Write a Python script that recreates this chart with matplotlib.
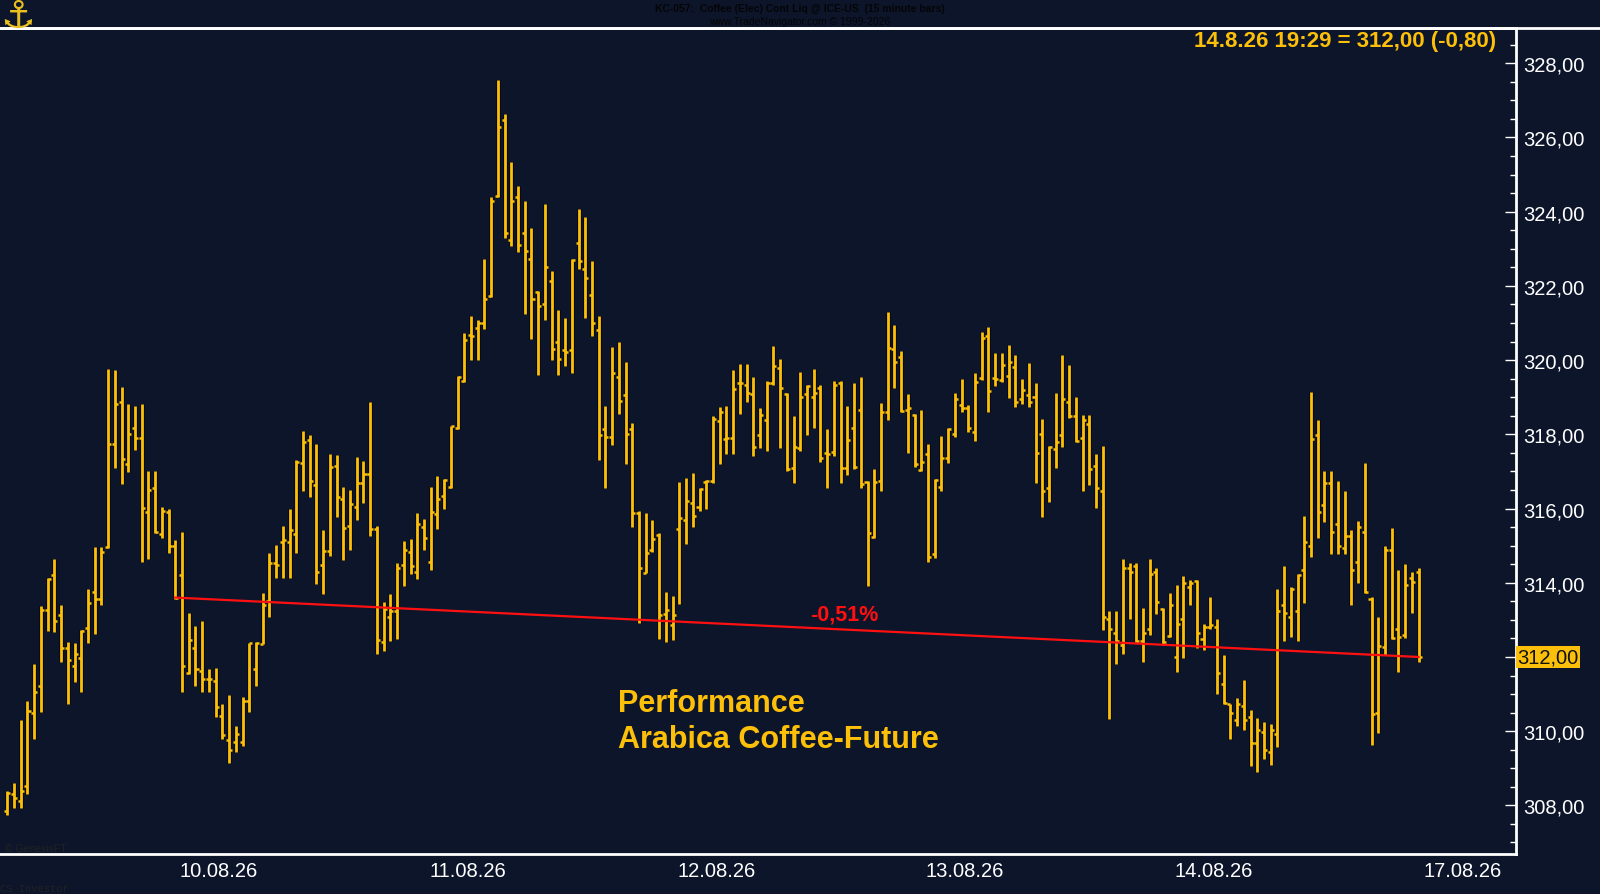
import matplotlib
matplotlib.use("Agg")
import matplotlib.pyplot as plt
import matplotlib.patheffects as pe
import numpy as np

# 15-minute OHLC bars, KC Coffee
opens = [
    307.85, 308.30, 308.13, 308.51, 310.49, 311.22, 313.27, 314.21, 313.14, 312.23,
    311.76, 311.96, 312.78, 313.76, 313.57, 314.96, 317.75, 318.87, 317.19, 318.17,
    317.90, 315.90, 316.55, 315.32, 315.90, 314.99, 314.21, 311.58, 312.25, 311.63,
    311.40, 311.36, 310.42, 309.76, 309.71, 309.71, 310.82, 311.67, 312.36, 313.50,
    314.52, 315.10, 315.10, 315.32, 317.24, 317.86, 316.64, 314.48, 314.86, 317.15,
    316.27, 315.52, 316.03, 316.70, 316.92, 315.45, 312.40, 313.09, 313.24, 314.49,
    314.84, 314.29, 315.50, 314.56, 315.85, 316.33, 316.59, 318.17, 319.44, 320.69,
    320.86, 321.01, 321.74, 324.42, 326.46, 323.25, 324.40, 323.42, 322.73, 321.84,
    321.51, 322.14, 320.48, 320.26, 320.26, 323.15, 322.46, 321.76, 320.81, 318.14,
    317.92, 319.55, 319.07, 318.13, 315.88, 314.27, 314.89, 315.30, 313.17, 312.85,
    315.44, 315.68, 316.16, 316.05, 316.71, 316.75, 318.36, 317.88, 317.90, 319.37,
    319.34, 319.10, 317.97, 318.39, 319.37, 319.78, 319.10, 317.10, 317.63, 319.10,
    319.00, 319.25, 317.49, 317.53, 319.39, 317.09, 318.18, 318.66, 316.71, 315.24,
    316.75, 318.61, 320.29, 320.08, 318.66, 318.52, 317.03, 317.47, 314.78, 316.59,
    317.35, 318.02, 318.79, 318.71, 318.07, 319.51, 320.64, 319.52, 319.46, 319.57,
    319.81, 318.94, 319.05, 319.00, 318.02, 316.54, 317.61, 317.97, 318.88, 318.50,
    317.90, 318.27, 317.14, 316.48, 313.02, 312.64, 312.33, 314.39, 314.44, 312.44,
    312.76, 314.28, 313.29, 312.56, 312.00, 313.02, 313.88, 314.05, 312.49, 312.81,
    312.81, 311.28, 310.74, 310.30, 310.67, 310.39, 309.69, 309.98, 309.43, 309.93,
    313.41, 313.07, 313.25, 314.34, 314.99, 317.98, 316.09, 316.69, 315.58, 314.94,
    315.27, 314.55, 315.38, 313.57, 310.49, 312.26, 314.89, 312.76, 312.58, 314.12,
    314.28,
]
highs = [
    308.38, 308.60, 310.29, 310.82, 311.82, 313.36, 314.12, 314.63, 313.41, 312.41,
    312.38, 312.72, 313.83, 314.95, 314.95, 319.77, 319.73, 319.28, 318.82, 318.77,
    318.82, 317.00, 317.00, 316.05, 315.99, 315.16, 315.37, 313.18, 312.83, 312.98,
    311.67, 311.71, 310.73, 310.98, 310.13, 310.91, 312.38, 312.41, 313.72, 314.79,
    315.03, 315.52, 315.99, 317.32, 318.08, 317.97, 317.74, 315.41, 317.48, 317.43,
    316.59, 316.50, 317.40, 317.28, 318.87, 315.54, 313.49, 313.69, 314.54, 315.13,
    315.18, 315.88, 315.73, 316.59, 316.88, 316.80, 318.22, 319.57, 320.74, 321.18,
    321.08, 322.73, 324.40, 327.56, 326.64, 325.34, 324.70, 324.30, 323.55, 321.86,
    324.22, 322.41, 321.34, 321.14, 322.73, 324.07, 323.85, 322.66, 321.19, 318.75,
    320.34, 320.49, 319.94, 318.30, 315.93, 315.88, 315.68, 315.35, 313.75, 313.65,
    316.71, 316.82, 316.96, 316.55, 316.77, 318.50, 318.73, 318.76, 319.72, 319.89,
    319.89, 319.54, 318.71, 319.43, 320.38, 320.04, 319.12, 318.50, 319.67, 319.32,
    319.77, 319.32, 318.13, 319.43, 319.43, 318.75, 319.39, 319.55, 316.75, 317.07,
    318.84, 321.30, 320.95, 320.24, 319.09, 318.54, 318.65, 317.73, 316.80, 317.95,
    318.17, 319.11, 319.48, 318.79, 319.66, 320.75, 320.90, 320.19, 320.19, 320.41,
    320.13, 319.48, 319.92, 319.37, 318.40, 317.69, 319.11, 320.13, 319.87, 319.00,
    318.51, 318.51, 317.47, 317.69, 313.25, 313.25, 314.65, 314.54, 314.54, 313.31,
    314.65, 314.39, 313.31, 313.73, 313.94, 314.19, 314.08, 314.08, 312.90, 313.62,
    313.02, 312.06, 310.74, 310.90, 311.39, 310.56, 310.35, 310.24, 310.19, 313.84,
    314.44, 313.88, 314.23, 315.81, 319.14, 318.38, 317.01, 317.01, 316.74, 316.48,
    315.43, 315.66, 317.22, 313.62, 313.07, 314.98, 315.47, 314.34, 314.51, 314.30,
    314.40,
]
lows = [
    307.75, 307.93, 307.93, 308.30, 309.78, 310.53, 312.71, 312.67, 311.87, 310.73,
    311.33, 311.06, 312.38, 312.61, 313.41, 314.94, 317.10, 316.67, 316.99, 317.57,
    314.56, 314.65, 315.35, 315.21, 314.79, 313.55, 311.06, 311.54, 311.22, 311.06,
    311.06, 310.38, 309.80, 309.15, 309.44, 309.60, 310.53, 311.22, 312.34, 313.07,
    314.14, 314.14, 314.14, 314.79, 316.48, 316.30, 313.97, 313.70, 314.72, 315.78,
    314.61, 314.88, 315.68, 316.14, 315.25, 312.07, 312.15, 312.44, 312.49, 313.91,
    314.24, 314.09, 314.89, 314.34, 315.45, 315.98, 316.55, 318.14, 319.42, 319.99,
    319.99, 320.84, 321.71, 324.40, 323.30, 323.08, 322.90, 321.24, 320.58, 319.59,
    321.08, 319.99, 319.59, 319.85, 319.64, 322.46, 321.14, 320.64, 317.30, 316.55,
    317.71, 318.55, 317.19, 315.51, 312.92, 314.25, 314.84, 312.48, 312.40, 312.45,
    313.43, 315.05, 315.51, 315.93, 315.99, 316.69, 317.19, 317.46, 317.46, 318.54,
    318.88, 317.41, 317.63, 317.56, 319.32, 317.63, 317.01, 316.69, 317.56, 317.97,
    318.18, 317.26, 316.54, 317.41, 316.69, 316.91, 317.07, 316.56, 313.91, 315.21,
    316.48, 318.38, 319.25, 318.59, 317.50, 317.12, 317.01, 314.55, 314.66, 316.48,
    317.24, 317.93, 318.59, 318.06, 317.83, 319.46, 318.59, 319.30, 319.40, 318.98,
    318.74, 318.82, 318.74, 316.69, 315.76, 316.18, 317.10, 317.67, 318.43, 317.78,
    316.48, 316.63, 316.02, 312.74, 310.33, 311.82, 312.07, 313.01, 312.40, 311.86,
    312.58, 313.16, 312.33, 312.53, 311.60, 311.98, 313.41, 312.23, 312.19, 312.76,
    311.00, 310.72, 309.78, 310.13, 310.03, 309.07, 308.91, 309.25, 309.09, 309.57,
    312.42, 312.53, 312.42, 313.45, 314.69, 315.20, 315.64, 314.78, 314.78, 314.78,
    313.41, 314.00, 313.73, 309.62, 309.96, 312.06, 312.49, 311.60, 312.52, 313.18,
    311.86,
]
closes = [
    308.33, 308.21, 308.38, 310.54, 311.05, 313.27, 314.10, 312.98, 312.25, 311.92,
    312.09, 312.69, 313.45, 313.56, 314.83, 317.75, 318.81, 317.34, 318.02, 317.90,
    316.01, 316.50, 315.38, 315.93, 314.99, 313.60, 311.76, 312.47, 311.67, 311.40,
    311.40, 310.65, 309.91, 309.49, 309.93, 310.80, 312.38, 312.38, 313.41, 314.52,
    314.49, 315.14, 315.41, 317.25, 317.80, 316.75, 314.30, 314.85, 317.13, 316.30,
    315.47, 316.12, 316.68, 316.92, 315.45, 312.47, 313.30, 313.24, 314.39, 314.89,
    314.44, 315.58, 315.20, 315.90, 316.25, 316.76, 318.22, 319.54, 320.53, 320.64,
    321.01, 321.66, 324.30, 326.29, 323.42, 324.30, 323.10, 322.95, 321.66, 321.46,
    322.51, 320.31, 320.04, 320.21, 322.70, 322.68, 322.21, 321.01, 317.99, 317.92,
    319.65, 318.89, 318.01, 315.88, 314.41, 314.80, 315.19, 313.13, 313.26, 313.13,
    315.74, 316.20, 315.79, 316.52, 316.75, 318.41, 318.59, 317.90, 319.21, 319.37,
    319.11, 317.67, 318.53, 319.39, 319.83, 319.26, 317.07, 317.67, 319.00, 319.30,
    319.11, 317.35, 317.46, 319.32, 317.09, 317.84, 317.12, 316.66, 315.33, 316.71,
    318.59, 320.33, 319.96, 318.63, 318.70, 317.21, 317.26, 314.69, 316.77, 317.37,
    318.15, 318.94, 318.70, 318.17, 319.41, 320.59, 319.16, 319.48, 319.87, 319.96,
    318.88, 319.20, 318.88, 317.50, 316.48, 317.65, 317.79, 318.94, 318.50, 317.81,
    318.39, 317.07, 316.54, 313.08, 312.76, 312.44, 314.39, 314.28, 312.44, 312.65,
    314.23, 313.48, 312.40, 313.41, 312.90, 314.00, 313.98, 312.64, 312.81, 312.85,
    311.57, 310.76, 310.49, 310.74, 310.30, 309.69, 310.03, 309.48, 310.03, 313.25,
    313.19, 313.84, 314.20, 315.10, 317.88, 315.91, 316.69, 315.38, 314.99, 315.27,
    314.34, 315.49, 313.75, 310.47, 312.30, 314.89, 312.51, 312.54, 313.94, 314.02,
    312.00,
]

# first bar of each trading day (bar index) and its label
day_start_bar = [31.5, 68.5, 105.5, 142.5, 179.5, 216.5]
day_labels = ['10.08.26', '11.08.26', '12.08.26', '13.08.26', '14.08.26', '17.08.26']

perf_start_bar = 25   # red performance line runs from this close to the last one
y_ticks = [308, 310, 312, 314, 316, 318, 320, 322, 324, 326, 328]

BG = '#0d152b'
GOLD = '#fcbf0a'

W, H = 1600, 895
fig = plt.figure(figsize=(W / 100, H / 100), dpi=100, facecolor=BG)
ax = fig.add_axes([0, (H - 855) / H, 1516 / W, (855 - 29) / H])
ax.set_facecolor(BG)

x = np.arange(len(closes))
shadow = [pe.Stroke(linewidth=3.4, foreground='#05080f'), pe.Normal()]
ax.vlines(x, lows, highs, color=GOLD, lw=2.0, path_effects=shadow, zorder=3)
ax.hlines(opens, x - 0.45, x, color=GOLD, lw=1.8, zorder=3)
ax.hlines(closes, x, x + 0.45, color=GOLD, lw=1.8, zorder=3)

# performance line
x0, x1 = perf_start_bar, len(closes) - 1
ax.plot([x0, x1], [closes[x0], closes[x1]], color='#ff1010', lw=1.6, zorder=4)
perf = (closes[x1] / closes[x0] - 1) * 100
ax.text((x0 + x1) / 2 + 7, (closes[x0] + closes[x1]) / 2 + 0.35,
        f'{perf:.2f}%'.replace('.', ','), color='#ff1010', fontsize=15.5,
        fontweight='bold', family='Liberation Sans', ha='center', va='center', zorder=5)

ax.set_xlim(-1.09, 224.5)
ax.set_ylim(306.69, 328.95)

# right price axis; the last price label replaces its tick label
last_txt = f'{closes[-1]:.2f}'.replace('.', ',')
ax.yaxis.tick_right()
ax.set_yticks(y_ticks)
ax.set_yticklabels(['' if abs(v - closes[-1]) < 0.3 else f'{v:.2f}'.replace('.', ',')
                    for v in y_ticks])
ax.set_yticks(np.arange(307, 329, 0.5), minor=True)
ax.tick_params(axis='y', which='major', direction='in', length=8, width=1,
               color='white', labelcolor='white', labelsize=14.5, pad=5)
ax.tick_params(axis='y', which='minor', direction='in', length=4, width=1, color='white')
for lab in ax.get_yticklabels():
    lab.set_family('Liberation Sans')

ax.set_xticks(day_start_bar)
ax.set_xticklabels(day_labels)
ax.tick_params(axis='x', length=0, labelcolor='white', labelsize=14.5, pad=5)
for lab in ax.get_xticklabels():
    lab.set_family('Liberation Sans')

for side in ['left', 'top', 'right', 'bottom']:
    ax.spines[side].set_color('white')
    ax.spines[side].set_linewidth(2)
ax.spines['left'].set_visible(False)

ax.text(1.001, closes[-1], last_txt, transform=ax.get_yaxis_transform(),
        color='#111111', fontsize=14.5, family='Liberation Sans', ha='left', va='center',
        bbox=dict(boxstyle='square,pad=0.08', facecolor=GOLD, edgecolor='none'), zorder=6)

# header texts
fig.add_artist(plt.Line2D([0, 1], [(H - 29) / H] * 2, transform=fig.transFigure, color='white', lw=2))
fig.text(800 / W, 1 - 9 / H, 'KC-057:  Coffee (Elec) Cont Liq @ ICE-US  (15 minute bars)',
         color='#050505', fontsize=7.5, fontweight='bold', family='Liberation Sans',
         ha='center', va='center')
fig.text(800 / W, 1 - 22 / H, 'www.TradeNavigator.com \u00a9 1999-2026',
         color='#050505', fontsize=7.5, family='Liberation Sans', ha='center', va='center')
fig.text(1496 / W, 1 - 41 / H, '14.8.26 19:29 = 312,00 (-0,80)', color=GOLD, fontsize=16,
         fontweight='bold', family='Liberation Sans', ha='right', va='center')
fig.text(18 / W, 1 - 17 / H, '\u2693', color='#e8c020', fontsize=28, fontweight='bold',
         family='DejaVu Sans', ha='center', va='center')

fig.text(618 / W, 1 - 722 / H, 'Performance\nArabica Coffee-Future', color=GOLD, fontsize=22,
         fontweight='bold', family='Liberation Sans', ha='left', va='center', linespacing=1.25)

fig.text(5 / W, 1 - 849 / H, '\u00a9 GenesisFT', color='#222222', fontsize=7.5,
         family='Liberation Sans', ha='left', va='center')
fig.text(0, 1 - 889 / H, 'CS Investor', color='#222222', fontsize=7.5,
         family='Liberation Mono', ha='left', va='center')

fig.savefig('out.png', dpi=100, facecolor=BG)
